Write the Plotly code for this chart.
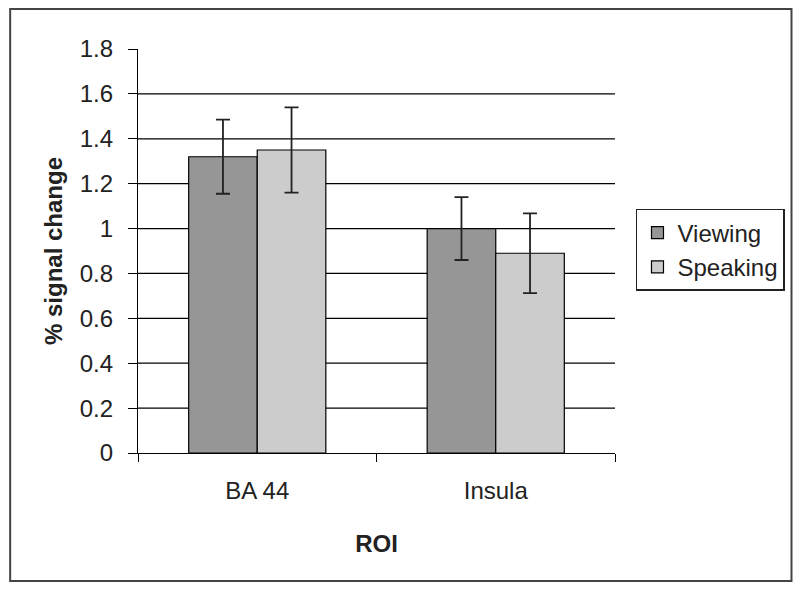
import plotly.graph_objects as go

# data
rois = ['BA 44', 'Insula']
viewing = [1.32, 1.00]
viewing_err = [0.165, 0.14]
speaking = [1.35, 0.89]
speaking_err = [0.19, 0.178]
y_ticks = [0, 0.2, 0.4, 0.6, 0.8, 1, 1.2, 1.4, 1.6, 1.8]
grid_vals = [0.2, 0.4, 0.6, 0.8, 1, 1.2, 1.4, 1.6]

font = 'Liberation Sans, Arial, sans-serif'

fig = go.Figure()
fig.add_trace(go.Bar(x=rois, y=viewing, name='Viewing',
                     marker=dict(color='#969696', line=dict(color='black', width=1.2)),
                     error_y=dict(type='data', array=viewing_err, color='#222222',
                                  thickness=1.8, width=7)))
fig.add_trace(go.Bar(x=rois, y=speaking, name='Speaking',
                     marker=dict(color='#cccccc', line=dict(color='black', width=1.2)),
                     error_y=dict(type='data', array=speaking_err, color='#222222',
                                  thickness=1.8, width=7)))

# gridlines (none at the top of the axis)
for g in grid_vals:
    fig.add_shape(type='line', xref='paper', yref='y', x0=0, x1=1, y0=g, y1=g,
                  line=dict(color='black', width=1.2), layer='below')

# outer chart frame
fig.add_shape(type='rect', xref='paper', yref='paper', x0=-0.268, x1=1.37, y0=-0.317, y1=1.099,
              line=dict(color='#444444', width=2))

fig.update_layout(
    width=800, height=589,
    margin=dict(l=138, r=185, t=49, b=136),
    paper_bgcolor='white', plot_bgcolor='white',
    barmode='group', bargap=0.425, bargroupgap=0,
    font=dict(family=font, size=24, color='#222222'),
    showlegend=True,
    legend=dict(x=1.044, y=0.5025, xanchor='left', yanchor='middle',
                bordercolor='#222222', borderwidth=1.5, bgcolor='white',
                font=dict(size=24), itemwidth=30, tracegroupgap=4),
    xaxis=dict(showline=True, linecolor='black', linewidth=1.2,
               ticks='outside', tickson='boundaries', ticklen=8, tickcolor='black',
               ticklabelstandoff=16,
               title=dict(text='<b>ROI</b>', standoff=32, font=dict(size=24))),
    yaxis=dict(range=[0, 1.8], tickvals=y_ticks, ticktext=[f'{v:g}' for v in y_ticks],
               showgrid=False, zeroline=False,
               showline=True, linecolor='black', linewidth=1.2,
               ticks='outside', ticklen=9, tickcolor='black', ticklabelstandoff=10,
               title=dict(text='<b>% signal change</b>', standoff=10, font=dict(size=24))),
)

fig.write_html('out.html', config={'displayModeBar': False},
               post_script="document.body.style.margin='0';")
